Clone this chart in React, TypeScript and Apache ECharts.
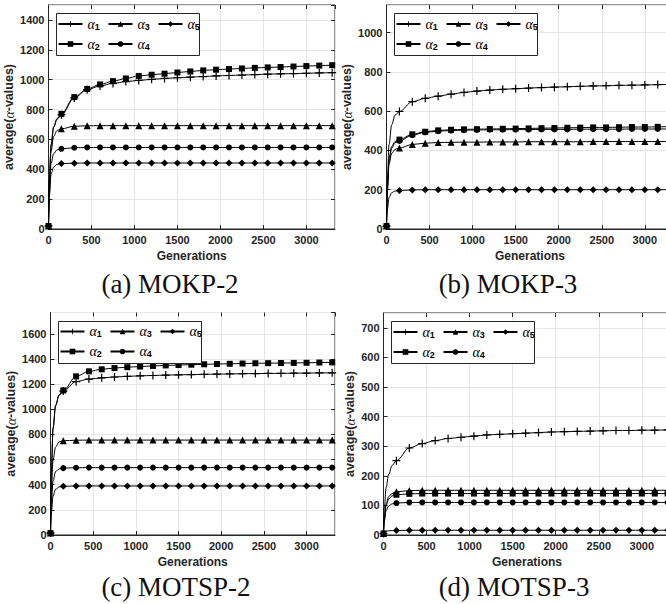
import React, { useEffect, useRef } from 'react';
import * as echarts from 'echarts';

// Generations at which values were read (markers every 150, plus early curve points)
const GENS = [0, 10, 30, 60, 100, 150, 300, 450, 600, 750, 900, 1050, 1200, 1350, 1500, 1650, 1800, 1950, 2100, 2250, 2400, 2550, 2700, 2850, 3000, 3150, 3300, 3333];
const MARKER_STEP = 150;
const SERIES_NAMES = ['α1', 'α2', 'α3', 'α4', 'α5'];
const CAPTIONS = ['(a) MOKP-2', '(b) MOKP-3', '(c) MOTSP-2', '(d) MOTSP-3'];
const Y_MAX = [1500, 1140, 1770, 750];
const Y_INTERVAL = [200, 200, 200, 100];
const X_MAX = 3333;
const X_INTERVAL = 500;

// (a) MOKP-2
const MOKP2_A1 = [20, 330, 560, 680, 735, 765, 878, 933, 958, 975, 987, 995, 1002, 1008, 1013, 1017, 1021, 1025, 1028, 1031, 1034, 1037, 1039, 1041, 1043, 1045, 1047, 1047];
const MOKP2_A2 = [20, 330, 565, 685, 740, 771, 883, 938, 968, 990, 1008, 1025, 1033, 1040, 1048, 1055, 1062, 1067, 1071, 1075, 1079, 1082, 1085, 1088, 1091, 1094, 1097, 1098];
const MOKP2_A3 = [20, 300, 520, 620, 660, 671, 688, 691, 692, 692, 692, 692, 692, 692, 692, 692, 692, 692, 692, 692, 692, 692, 692, 692, 692, 692, 692, 692];
const MOKP2_A4 = [20, 250, 440, 505, 530, 537, 544, 546, 546, 546, 546, 546, 546, 546, 546, 546, 546, 546, 546, 546, 546, 546, 546, 546, 546, 546, 546, 546];
const MOKP2_A5 = [20, 220, 370, 415, 433, 438, 441, 442, 442, 442, 442, 442, 442, 442, 442, 442, 442, 442, 442, 442, 442, 442, 442, 442, 442, 442, 442, 442];

// (b) MOKP-3
const MOKP3_A1 = [15, 250, 430, 530, 580, 598, 648, 665, 676, 686, 695, 702, 707, 711, 714, 717, 720, 722, 724, 726, 728, 729, 731, 732, 733, 735, 736, 736];
const MOKP3_A2 = [15, 220, 360, 420, 445, 455, 482, 495, 502, 505, 507, 508, 509, 510, 511, 512, 513, 514, 515, 516, 517, 517, 518, 519, 519, 520, 521, 521];
const MOKP3_A3 = [15, 200, 330, 385, 405, 412, 430, 437, 440, 441, 442, 442, 443, 443, 443, 444, 444, 444, 444, 444, 445, 445, 445, 445, 445, 445, 445, 445];
const MOKP3_A4 = [15, 200, 345, 410, 440, 448, 478, 492, 498, 501, 503, 504, 505, 505, 506, 506, 507, 507, 507, 508, 508, 508, 508, 509, 509, 509, 509, 509];
const MOKP3_A5 = [15, 100, 160, 185, 193, 196, 199, 200, 200, 200, 200, 200, 200, 200, 200, 200, 200, 200, 200, 200, 200, 200, 200, 200, 200, 200, 200, 200];

// (c) MOTSP-2
const MOTSP2_A1 = [15, 500, 850, 1030, 1110, 1145, 1220, 1240, 1250, 1257, 1262, 1266, 1269, 1272, 1274, 1276, 1278, 1280, 1281, 1283, 1284, 1285, 1286, 1287, 1288, 1289, 1290, 1290];
const MOTSP2_A2 = [15, 500, 850, 1030, 1115, 1150, 1262, 1302, 1318, 1328, 1335, 1340, 1345, 1349, 1352, 1355, 1358, 1360, 1362, 1364, 1366, 1367, 1368, 1369, 1370, 1372, 1373, 1374];
const MOTSP2_A3 = [15, 350, 600, 700, 740, 750, 754, 755, 755, 755, 755, 755, 755, 755, 755, 755, 755, 755, 755, 755, 755, 755, 755, 755, 755, 755, 755, 755];
const MOTSP2_A4 = [15, 250, 430, 505, 525, 532, 535, 536, 536, 536, 536, 536, 536, 536, 536, 536, 536, 536, 536, 536, 536, 536, 536, 536, 536, 536, 536, 536];
const MOTSP2_A5 = [15, 180, 310, 365, 382, 387, 390, 390, 390, 390, 390, 390, 390, 390, 390, 390, 390, 390, 390, 390, 390, 390, 390, 390, 390, 390, 390, 390];

// (d) MOTSP-3
const MOTSP3_A1 = [5, 90, 160, 205, 235, 251, 294, 309, 319, 326, 330, 334, 338, 340, 342, 344, 346, 348, 349, 350, 351, 352, 353, 353, 354, 354, 355, 355];
const MOTSP3_A2 = [5, 55, 98, 122, 132, 136, 139, 140, 140, 140, 140, 140, 140, 140, 140, 140, 140, 140, 140, 140, 140, 140, 140, 140, 140, 140, 140, 140];
const MOTSP3_A3 = [5, 60, 105, 130, 140, 146, 150, 151, 151, 151, 151, 151, 151, 151, 151, 151, 151, 151, 151, 151, 151, 151, 151, 151, 151, 151, 151, 151];
const MOTSP3_A4 = [5, 48, 82, 98, 105, 108, 110, 110, 110, 110, 110, 110, 110, 110, 110, 110, 110, 110, 110, 110, 110, 110, 110, 110, 110, 110, 110, 110];
const MOTSP3_A5 = [5, 10, 13, 14, 15, 15, 16, 16, 16, 16, 16, 16, 16, 16, 16, 16, 16, 16, 16, 16, 16, 16, 16, 16, 16, 16, 16, 16];

const PANEL_DATA = [
  [MOKP2_A1, MOKP2_A2, MOKP2_A3, MOKP2_A4, MOKP2_A5],
  [MOKP3_A1, MOKP3_A2, MOKP3_A3, MOKP3_A4, MOKP3_A5],
  [MOTSP2_A1, MOTSP2_A2, MOTSP2_A3, MOTSP2_A4, MOTSP2_A5],
  [MOTSP3_A1, MOTSP3_A2, MOTSP3_A3, MOTSP3_A4, MOTSP3_A5],
];

// layout (pixels)
const LAYOUT = [
  { left: 48.5, top: 5, width: 286.5, height: 224, capX: 170, capY: 284, nameGap: 30 },
  { left: 386.5, top: 5, width: 287, height: 224, capX: 508, capY: 284, nameGap: 30 },
  { left: 50.5, top: 312.5, width: 284.5, height: 222.5, capX: 176, capY: 587, nameGap: 31 },
  { left: 383.5, top: 313, width: 287, height: 222, capX: 514, capY: 587, nameGap: 23 },
];

const SANS = '"Liberation Sans", Arial, Helvetica, sans-serif';
const SERIF = '"Liberation Serif", "Times New Roman", serif';
const TXT = '#262626';
const GRIDC = '#e6e6e6';

const PLUS = 'path://M3.4,0H4.6V3.4H8V4.6H4.6V8H3.4V4.6H0V3.4H3.4Z';
const SYMBOLS = [
  { symbol: PLUS, size: 8 },
  { symbol: 'rect', size: 6 },
  { symbol: 'triangle', size: 7 },
  { symbol: 'circle', size: 6 },
  { symbol: 'diamond', size: 7 },
];
const LEGEND_COLUMNS = [['α1', 'α2'], ['α3', 'α4'], ['α5']];

const plain = (v: number) => String(v);

function buildOption() {
  const grid: any[] = [];
  const xAxis: any[] = [];
  const yAxis: any[] = [];
  const series: any[] = [];
  const legend: any[] = [];
  const graphic: any[] = [];

  LAYOUT.forEach((L, p) => {
    grid.push({
      left: L.left, top: L.top, width: L.width, height: L.height,
      show: true, borderColor: TXT, borderWidth: 1, backgroundColor: '#fff',
    });
    xAxis.push({
      type: 'value', gridIndex: p, min: 0, max: X_MAX, interval: X_INTERVAL, position: 'bottom',
      axisLine: { show: true, onZero: false, lineStyle: { color: TXT, width: 1 } },
      axisTick: { show: true, inside: true, length: 4, lineStyle: { color: TXT } },
      axisLabel: { color: TXT, fontFamily: SANS, fontWeight: 'bold', fontSize: 11, margin: 5, showMaxLabel: false, formatter: plain },
      splitLine: { show: true, lineStyle: { color: GRIDC, width: 1 } },
      name: 'Generations', nameLocation: 'middle', nameGap: 21,
      nameTextStyle: { color: TXT, fontFamily: SANS, fontWeight: 'bold', fontSize: 12 },
    });
    xAxis.push({
      type: 'value', gridIndex: p, min: 0, max: X_MAX, interval: X_INTERVAL, position: 'top',
      axisLine: { show: false, onZero: false },
      axisTick: { show: true, inside: true, length: 4, lineStyle: { color: TXT } },
      axisLabel: { show: false }, splitLine: { show: false },
    });
    yAxis.push({
      type: 'value', gridIndex: p, min: 0, max: Y_MAX[p], interval: Y_INTERVAL[p], position: 'left',
      axisLine: { show: true, onZero: false, lineStyle: { color: TXT, width: 1 } },
      axisTick: { show: true, inside: true, length: 4, lineStyle: { color: TXT } },
      axisLabel: { color: TXT, fontFamily: SANS, fontWeight: 'bold', fontSize: 11, margin: 4, showMaxLabel: false, formatter: plain },
      splitLine: { show: true, lineStyle: { color: GRIDC, width: 1 } },
      name: '{b|average(}{a|α}{b|-values)}', nameLocation: 'middle', nameGap: L.nameGap, nameRotate: 90,
      nameTextStyle: {
        rich: {
          b: { color: TXT, fontFamily: SANS, fontWeight: 'bold', fontSize: 12.5 },
          a: { color: TXT, fontFamily: SERIF, fontStyle: 'italic', fontSize: 14 },
        },
      },
    });
    yAxis.push({
      type: 'value', gridIndex: p, min: 0, max: Y_MAX[p], interval: Y_INTERVAL[p], position: 'right',
      axisLine: { show: false, onZero: false },
      axisTick: { show: true, inside: true, length: 4, lineStyle: { color: TXT } },
      axisLabel: { show: false }, splitLine: { show: false },
    });

    PANEL_DATA[p].forEach((vals, s) => {
      const data = GENS.map((g, i) => {
        const item: any = { value: [g, vals[i]] };
        if (g % MARKER_STEP !== 0) item.symbol = 'none';
        return item;
      });
      series.push({
        type: 'line', name: SERIES_NAMES[s], xAxisIndex: p * 2, yAxisIndex: p * 2,
        data, symbol: SYMBOLS[s].symbol, symbolSize: SYMBOLS[s].size, showSymbol: true, showAllSymbol: true,
        smooth: 0.35, smoothMonotone: 'x',
        lineStyle: { color: '#000', width: 1 },
        itemStyle: { color: '#000' },
        z: 2, silent: true,
      });
    });

    const boxL = L.left + 7;
    const boxT = L.top + 8;
    graphic.push({
      type: 'rect', z: 3,
      shape: { x: Math.round(boxL) + 0.5, y: Math.round(boxT) + 0.5, width: 143, height: 42 },
      style: { fill: '#fff', stroke: TXT, lineWidth: 1 },
    });
    LEGEND_COLUMNS.forEach((col, c) => {
      legend.push({
        orient: 'vertical', left: boxL + 2 + c * 50, top: boxT + 4, padding: 0,
        data: col, itemWidth: 24, itemHeight: 7, itemGap: 6, selectedMode: false, z: 5,
        formatter: (n: string) => `{a|α}{s|${n.slice(1)}}`,
        textStyle: {
          color: '#000',
          rich: {
            a: { fontFamily: SERIF, fontStyle: 'italic', fontSize: 14, lineHeight: 14, color: '#000' },
            s: { fontFamily: SANS, fontWeight: 'bold', fontSize: 9, lineHeight: 6, verticalAlign: 'bottom', color: '#000' },
          },
        },
      });
    });
    graphic.push({
      type: 'text', z: 10, x: L.capX, y: L.capY,
      style: { text: CAPTIONS[p], font: `27px ${SERIF}`, fill: '#111', align: 'center', verticalAlign: 'middle' },
    });
  });

  return { animation: false, backgroundColor: '#fff', grid, xAxis, yAxis, series, legend, graphic };
}

export default function App() {
  const ref = useRef<HTMLDivElement>(null);
  useEffect(() => {
    const chart = echarts.init(ref.current!, undefined, { renderer: 'svg' });
    chart.setOption(buildOption() as any);
    return () => chart.dispose();
  }, []);
  return (
    <div style={{ position: 'fixed', left: 0, top: 0, width: 666, height: 604, overflow: 'hidden', background: '#fff' }}>
      <div ref={ref} style={{ width: 690, height: 604 }} />
    </div>
  );
}
